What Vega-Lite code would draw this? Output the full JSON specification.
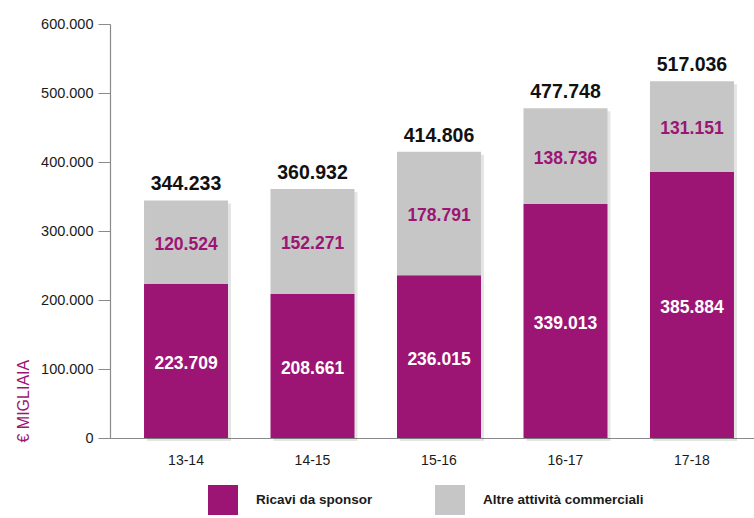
{
  "$schema": "https://vega.github.io/schema/vega-lite/v6.json",
  "width": 644,
  "height": 414,
  "autosize": {"type": "none"},
  "padding": {"left": 110, "top": 24, "right": 0, "bottom": 80},
  "background": "white",
  "config": {
    "view": {"stroke": null},
    "locale": {"number": {"decimal": ",", "thousands": ".", "grouping": [3], "currency": ["€", ""]}},
    "font": "Liberation Sans"
  },
  "datasets": {
    "stack": [
      {"season": "13-14", "tipo": "Ricavi da sponsor", "valore": 223709, "ordine": 1},
      {"season": "14-15", "tipo": "Ricavi da sponsor", "valore": 208661, "ordine": 1},
      {"season": "15-16", "tipo": "Ricavi da sponsor", "valore": 236015, "ordine": 1},
      {"season": "16-17", "tipo": "Ricavi da sponsor", "valore": 339013, "ordine": 1},
      {"season": "17-18", "tipo": "Ricavi da sponsor", "valore": 385884, "ordine": 1},
      {"season": "13-14", "tipo": "Altre attività commerciali", "valore": 120524, "ordine": 2},
      {"season": "14-15", "tipo": "Altre attività commerciali", "valore": 152271, "ordine": 2},
      {"season": "15-16", "tipo": "Altre attività commerciali", "valore": 178791, "ordine": 2},
      {"season": "16-17", "tipo": "Altre attività commerciali", "valore": 138736, "ordine": 2},
      {"season": "17-18", "tipo": "Altre attività commerciali", "valore": 131151, "ordine": 2}
    ],
    "totali": [
      {"season": "13-14", "totale": 344233},
      {"season": "14-15", "totale": 360932},
      {"season": "15-16", "totale": 414806},
      {"season": "16-17", "totale": 477748},
      {"season": "17-18", "totale": 517036}
    ]
  },
  "encoding": {
    "x": {
      "field": "season",
      "type": "nominal",
      "sort": null,
      "scale": {"range": [0, 658], "paddingInner": 0.336, "paddingOuter": 0.269},
      "axis": {
        "title": null,
        "labelAngle": 0,
        "ticks": false,
        "domainColor": "#8a8a8a",
        "domainWidth": 1.2,
        "labelFontSize": 14,
        "labelColor": "#1a1a1a",
        "labelPadding": 15
      }
    }
  },
  "layer": [
    {
      "data": {"name": "totali"},
      "mark": {"type": "bar", "color": "#000000", "opacity": 0.1, "xOffset": 3, "yOffset": 3},
      "encoding": {
        "y": {"field": "totale", "type": "quantitative", "scale": {"domain": [0, 600000]}}
      }
    },
    {
      "data": {"name": "stack"},
      "mark": {"type": "bar"},
      "encoding": {
        "y": {
          "field": "valore",
          "type": "quantitative",
          "stack": "zero",
          "scale": {"domain": [0, 600000]},
          "axis": {
            "title": "€ MIGLIAIA",
            "titleColor": "#9c1574",
            "titleFontSize": 16,
            "titleFontWeight": "normal",
            "titleAnchor": "start",
            "titleAngle": 270,
            "titleX": -87,
            "titleY": 418,
            "titleBaseline": "middle",
            "values": [0, 100000, 200000, 300000, 400000, 500000, 600000],
            "format": ",d",
            "grid": false,
            "domainColor": "#8a8a8a",
            "domainWidth": 1.2,
            "tickColor": "#8a8a8a",
            "tickSize": 12,
            "labelPadding": 5,
            "labelFontSize": 14.5,
            "labelColor": "#1a1a1a"
          }
        },
        "color": {
          "field": "tipo",
          "type": "nominal",
          "sort": ["Ricavi da sponsor", "Altre attività commerciali"],
          "scale": {"domain": ["Ricavi da sponsor", "Altre attività commerciali"], "range": ["#9c1574", "#c6c6c6"]},
          "legend": {
            "title": null,
            "orient": "none",
            "legendX": 98,
            "legendY": 461,
            "direction": "horizontal",
            "columns": 2,
            "symbolType": "square",
            "symbolSize": 900,
            "symbolStrokeWidth": 0,
            "symbolOpacity": 1,
            "labelFontSize": 13.5,
            "labelFontWeight": "bold",
            "labelColor": "#1a1a1a",
            "labelOffset": 18,
            "labelLimit": 400,
            "columnPadding": 62
          }
        },
        "order": {"field": "ordine"}
      }
    },
    {
      "data": {"name": "stack"},
      "mark": {"type": "text", "fontSize": 17.5, "fontWeight": "bold", "baseline": "middle", "dy": 3},
      "encoding": {
        "y": {"field": "valore", "type": "quantitative", "stack": "zero", "bandPosition": 0.5},
        "detail": {"field": "tipo"},
        "order": {"field": "ordine"},
        "text": {"field": "valore", "type": "quantitative", "format": ",d"},
        "color": {
          "condition": {"test": "datum.ordine == 1", "value": "#ffffff"},
          "value": "#9c1574"
        }
      }
    },
    {
      "data": {"name": "totali"},
      "mark": {"type": "text", "fontSize": 19.5, "fontWeight": "bold", "baseline": "bottom", "dy": -6, "color": "#111111"},
      "encoding": {
        "y": {"field": "totale", "type": "quantitative"},
        "text": {"field": "totale", "type": "quantitative", "format": ",d"}
      }
    }
  ]
}
